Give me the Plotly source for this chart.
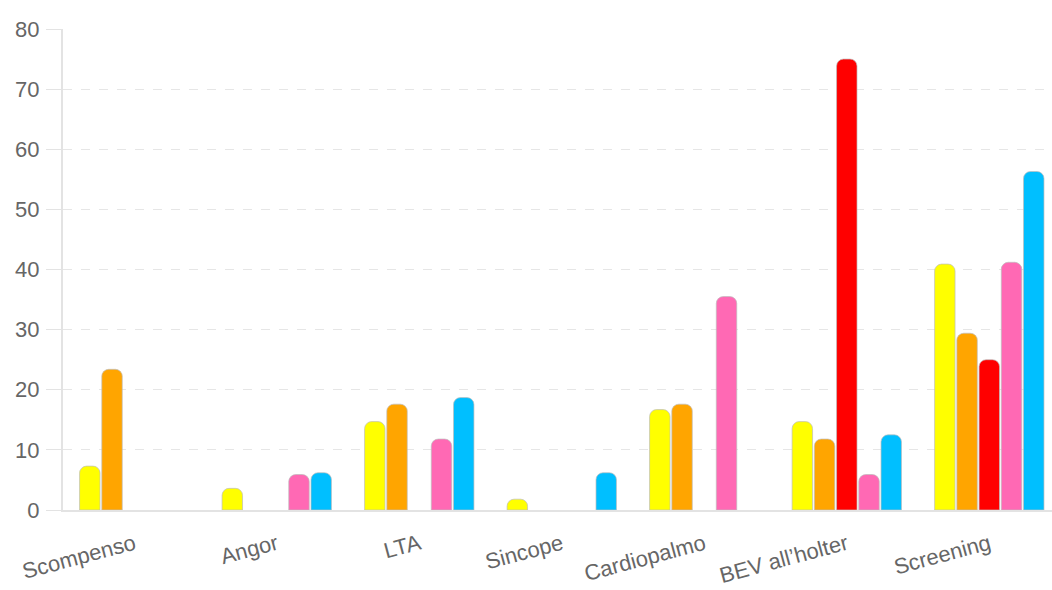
import plotly.graph_objects as go

categories = ["Scompenso", "Angor", "LTA", "Sincope", "Cardiopalmo", "BEV all’holter", "Screening"]
series_names = ["Serie 1", "Serie 2", "Serie 3", "Serie 4", "Serie 5"]
s1 = [7.3, 3.6, 14.7, 1.8, 16.7, 14.7, 40.9]
s2 = [23.4, 0, 17.6, 0, 17.6, 11.8, 29.4]
s3 = [0, 0, 0, 0, 0, 75.0, 25.0]
s4 = [0, 5.9, 11.8, 0, 35.5, 5.9, 41.2]
s5 = [0, 6.2, 18.7, 6.2, 0, 12.5, 56.3]
colors = ["#FFFF00", "#FFA500", "#FF0000", "#FF69B4", "#00BFFF"]

fig = go.Figure()
for name, vals, col in zip(series_names, [s1, s2, s3, s4, s5], colors):
    fig.add_trace(go.Bar(
        x=categories, y=[v if v else None for v in vals], name=name,
        marker=dict(color=col, line=dict(color="rgba(190,190,190,0.7)", width=1), cornerradius=7),
    ))

fig.update_layout(
    width=1052, height=590,
    margin=dict(l=63, r=0, t=29, b=80),
    paper_bgcolor="white", plot_bgcolor="white",
    barmode="group", bargap=0.22, bargroupgap=0.08,
    showlegend=False,
    font=dict(family="Liberation Sans, Arial, sans-serif", color="#666666"),
)
fig.update_xaxes(
    range=[-0.5, 6.44], tickangle=-15, tickfont=dict(size=22, color="#666666"),
    showline=True, linecolor="#e3e3e3", linewidth=2, showgrid=False, ticks="",
    ticklabelstandoff=11, automargin=False,
)
fig.update_yaxes(
    range=[0, 80], dtick=10, tickfont=dict(size=22, color="#666666"),
    showgrid=True, gridcolor="#e6e6e6", griddash="dash", gridwidth=1,
    showline=True, linecolor="#e3e3e3", linewidth=2,
    ticks="outside", ticklen=15, tickcolor="#e3e3e3", ticklabelstandoff=2,
    zeroline=False, automargin=False,
)
fig.write_html("out.html")
